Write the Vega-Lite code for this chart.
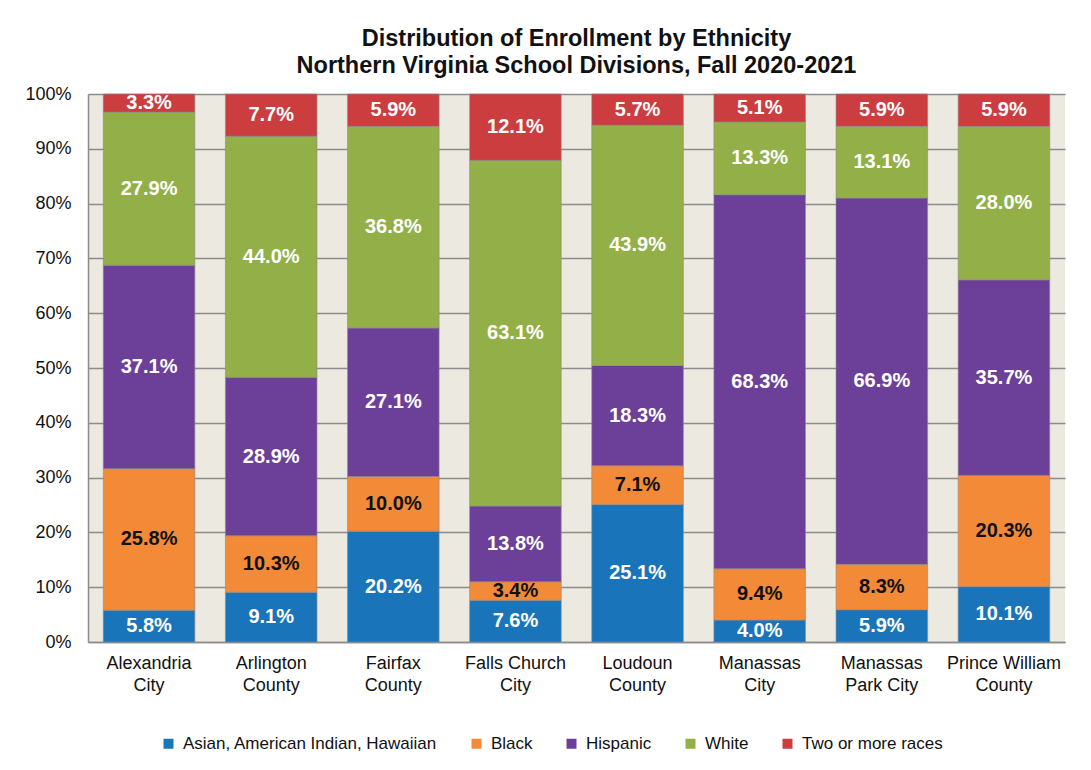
{
  "$schema": "https://vega.github.io/schema/vega-lite/v6.json",
  "width": 977,
  "height": 548,
  "autosize": {"type": "none"},
  "padding": {"left": 88, "top": 94, "right": 26, "bottom": 128},
  "background": "white",
  "title": {
    "text": ["Distribution of Enrollment by Ethnicity", "Northern Virginia School Divisions, Fall 2020-2021"],
    "font": "Liberation Sans",
    "fontSize": 23.5,
    "fontWeight": "bold",
    "color": "#111",
    "anchor": "middle",
    "offset": 8,
    "lineHeight": 27
  },
  "config": {
    "font": "Liberation Sans",
    "view": {"fill": "#ECE9E1", "stroke": null},
    "axisY": {
      "title": null,
      "format": ".0%",
      "values": [0, 0.1, 0.2, 0.3, 0.4, 0.5, 0.6, 0.7, 0.8, 0.9, 1],
      "labelOverlap": false,
      "labelFontSize": 18,
      "labelColor": "#111",
      "labelPadding": 17,
      "ticks": false,
      "grid": true,
      "gridColor": "#8c8c8c",
      "gridWidth": 1.5,
      "domainColor": "#8c8c8c",
      "domainWidth": 1.5
    }
  },
  "data": {
    "values": [
      {"division": "Alexandria City", "group": "Asian, American Indian, Hawaiian", "pct": 5.8},
      {"division": "Alexandria City", "group": "Black", "pct": 25.8},
      {"division": "Alexandria City", "group": "Hispanic", "pct": 37.1},
      {"division": "Alexandria City", "group": "White", "pct": 27.9},
      {"division": "Alexandria City", "group": "Two or more races", "pct": 3.3},
      {"division": "Arlington County", "group": "Asian, American Indian, Hawaiian", "pct": 9.1},
      {"division": "Arlington County", "group": "Black", "pct": 10.3},
      {"division": "Arlington County", "group": "Hispanic", "pct": 28.9},
      {"division": "Arlington County", "group": "White", "pct": 44.0},
      {"division": "Arlington County", "group": "Two or more races", "pct": 7.7},
      {"division": "Fairfax County", "group": "Asian, American Indian, Hawaiian", "pct": 20.2},
      {"division": "Fairfax County", "group": "Black", "pct": 10.0},
      {"division": "Fairfax County", "group": "Hispanic", "pct": 27.1},
      {"division": "Fairfax County", "group": "White", "pct": 36.8},
      {"division": "Fairfax County", "group": "Two or more races", "pct": 5.9},
      {"division": "Falls Church City", "group": "Asian, American Indian, Hawaiian", "pct": 7.6},
      {"division": "Falls Church City", "group": "Black", "pct": 3.4},
      {"division": "Falls Church City", "group": "Hispanic", "pct": 13.8},
      {"division": "Falls Church City", "group": "White", "pct": 63.1},
      {"division": "Falls Church City", "group": "Two or more races", "pct": 12.1},
      {"division": "Loudoun County", "group": "Asian, American Indian, Hawaiian", "pct": 25.1},
      {"division": "Loudoun County", "group": "Black", "pct": 7.1},
      {"division": "Loudoun County", "group": "Hispanic", "pct": 18.3},
      {"division": "Loudoun County", "group": "White", "pct": 43.9},
      {"division": "Loudoun County", "group": "Two or more races", "pct": 5.7},
      {"division": "Manassas City", "group": "Asian, American Indian, Hawaiian", "pct": 4.0},
      {"division": "Manassas City", "group": "Black", "pct": 9.4},
      {"division": "Manassas City", "group": "Hispanic", "pct": 68.3},
      {"division": "Manassas City", "group": "White", "pct": 13.3},
      {"division": "Manassas City", "group": "Two or more races", "pct": 5.1},
      {"division": "Manassas Park City", "group": "Asian, American Indian, Hawaiian", "pct": 5.9},
      {"division": "Manassas Park City", "group": "Black", "pct": 8.3},
      {"division": "Manassas Park City", "group": "Hispanic", "pct": 66.9},
      {"division": "Manassas Park City", "group": "White", "pct": 13.1},
      {"division": "Manassas Park City", "group": "Two or more races", "pct": 5.9},
      {"division": "Prince William County", "group": "Asian, American Indian, Hawaiian", "pct": 10.1},
      {"division": "Prince William County", "group": "Black", "pct": 20.3},
      {"division": "Prince William County", "group": "Hispanic", "pct": 35.7},
      {"division": "Prince William County", "group": "White", "pct": 28.0},
      {"division": "Prince William County", "group": "Two or more races", "pct": 5.9}
    ]
  },
  "transform": [
    {"calculate": "indexof(['Asian, American Indian, Hawaiian','Black','Hispanic','White','Two or more races'], datum.group)", "as": "ord"},
    {"stack": "pct", "groupby": ["division"], "sort": [{"field": "ord", "order": "ascending"}], "offset": "normalize", "as": ["y0", "y1"]},
    {"calculate": "(datum.y0 + datum.y1) / 2", "as": "ymid"},
    {"calculate": "format(datum.pct, '.1f') + '%'", "as": "lbl"}
  ],
  "encoding": {
    "x": {
      "field": "division",
      "type": "nominal",
      "sort": null,
      "scale": {"paddingInner": 0.25, "paddingOuter": 0.125},
      "axis": {
        "title": null,
        "labelAngle": 0,
        "labelFontSize": 18,
        "labelColor": "#111",
        "labelPadding": 12,
        "labelLineHeight": 22,
        "labelLimit": 300,
        "ticks": false,
        "domainColor": "#8c8c8c",
        "domainWidth": 1.5,
        "labelExpr": "datum.label == 'Manassas Park City' ? ['Manassas', 'Park City'] : [slice(datum.label, 0, lastindexof(datum.label, ' ')), slice(datum.label, lastindexof(datum.label, ' ') + 1)]"
      }
    }
  },
  "layer": [
    {
      "mark": {"type": "bar", "stroke": "#8c8c8c", "strokeWidth": 0.6},
      "encoding": {
        "y": {
          "field": "y0",
          "type": "quantitative",
          "title": null,
          "scale": {"domain": [0, 1], "nice": false}
        },
        "y2": {"field": "y1"},
        "color": {
          "field": "group",
          "type": "nominal",
          "scale": {
            "domain": ["Asian, American Indian, Hawaiian", "Black", "Hispanic", "White", "Two or more races"],
            "range": ["#1A74BA", "#F28A38", "#6C3F99", "#93AF48", "#CB3D3F"]
          },
          "legend": {
            "title": null,
            "orient": "none",
            "legendX": 72,
            "legendY": 641,
            "direction": "horizontal",
            "symbolType": "square",
            "symbolSize": 100,
            "symbolStrokeWidth": 0,
            "labelFontSize": 17,
            "labelLimit": 400,
            "labelColor": "#111",
            "columnPadding": 30,
            "labelOffset": 6
          }
        }
      }
    },
    {
      "mark": {"type": "text", "fontSize": 20, "fontWeight": "bold", "baseline": "middle", "align": "center"},
      "encoding": {
        "y": {"field": "ymid", "type": "quantitative", "title": null},
        "text": {"field": "lbl", "type": "nominal"},
        "color": {
          "condition": {"test": "datum.group == 'Black'", "value": "#111111"},
          "value": "#ffffff"
        }
      }
    }
  ]
}
